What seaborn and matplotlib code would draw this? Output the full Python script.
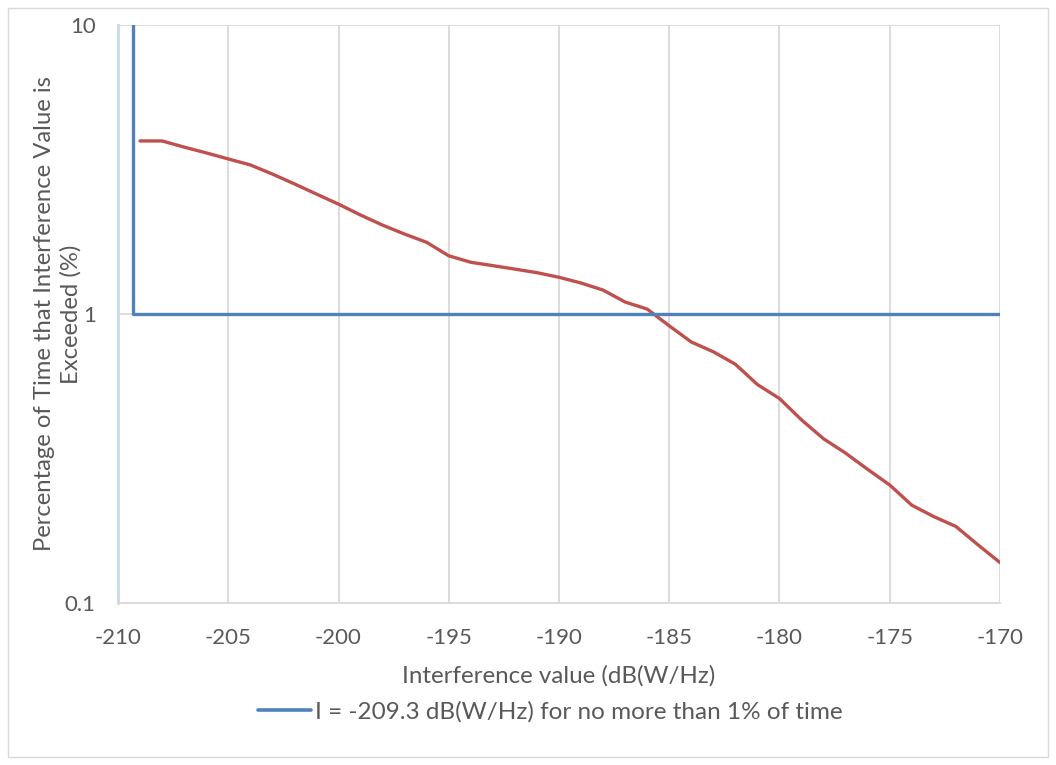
import matplotlib
matplotlib.use("Agg")
import matplotlib.pyplot as plt
import matplotlib.patches as mpatches
import numpy as np
import pandas as pd
import seaborn as sns

# ---- data ----
interference_db = [-209, -208, -207, -206, -205, -204, -203, -202, -201, -200,
                   -199, -198, -197, -196, -195, -194, -193, -192, -191, -190,
                   -189, -188, -187, -186, -185, -184, -183, -182, -181, -180,
                   -179, -178, -177, -176, -175, -174, -173, -172, -171, -170]
pct_exceeded = [3.97, 3.97, 3.78, 3.61, 3.44, 3.28, 3.05, 2.82, 2.60, 2.40,
                2.20, 2.03, 1.89, 1.77, 1.59, 1.51, 1.47, 1.43, 1.39, 1.34,
                1.28, 1.21, 1.10, 1.04, 0.91, 0.80, 0.74, 0.67, 0.57, 0.51,
                0.43, 0.37, 0.33, 0.29, 0.256, 0.218, 0.199, 0.184, 0.159, 0.138]

limit_x = [-209.3, -209.3, -170]
limit_y = [10, 1, 1]
limit_label = "I = -209.3 dB(W/Hz) for no more than 1% of time"

x_ticks = [-210, -205, -200, -195, -190, -185, -180, -175, -170]
y_ticks = [0.1, 1, 10]
y_tick_labels = ["0.1", "1", "10"]

x_title = "Interference value (dB(W/Hz)"
y_title = "Percentage of Time that Interference Value is\nExceeded (%)"

# ---- style ----
sns.set_style("white")
plt.rcParams['font.family'] = ['Lato', 'DejaVu Sans']
text_color = "#595959"
grid_color = "#d9d9d9"
red = "#c0504d"
blue = "#4f81bd"

fig = plt.figure(figsize=(10.56, 7.65), dpi=100)
ax = fig.add_axes([118/1056, 1-603/765, (1000-118)/1056, (603-25)/765])

curve_df = pd.DataFrame({"x": interference_db, "y": pct_exceeded})
limit_df = pd.DataFrame({"x": limit_x, "y": limit_y})

sns.lineplot(data=curve_df, x="x", y="y", ax=ax, color=red, linewidth=2.4,
             sort=False, estimator=None, zorder=3)
sns.lineplot(data=limit_df, x="x", y="y", ax=ax, color=blue, linewidth=2.4,
             sort=False, estimator=None, zorder=4)

ax.set_yscale("log")
ax.set_xlim(-210, -170)
ax.set_ylim(0.1, 10)
ax.set_xticks(x_ticks)
ax.set_xticklabels([str(t) for t in x_ticks])
ax.set_yticks(y_ticks)
ax.set_yticklabels(y_tick_labels)
ax.yaxis.set_minor_locator(matplotlib.ticker.NullLocator())

ax.grid(True, which="major", axis="both", color=grid_color, linewidth=1.3, zorder=0)
ax.set_axisbelow(True)
for s in ["top", "right"]:
    ax.spines[s].set_visible(False)
ax.spines["bottom"].set_color(grid_color)
ax.spines["bottom"].set_linewidth(1.3)
ax.spines["left"].set_color("#c6d9f0")
ax.spines["left"].set_linewidth(2.0)

ax.tick_params(axis="both", length=0, labelsize=16, colors=text_color)
ax.tick_params(axis="x", pad=18)
ax.tick_params(axis="y", pad=16)

ax.set_xlabel(x_title, fontsize=17.4, color=text_color, labelpad=12)
ax.set_ylabel(y_title, fontsize=17.2, color=text_color, va="center", ha="center",
              multialignment="center", linespacing=1.3)
ax.yaxis.set_label_coords(-0.068, 0.5)

handle = plt.Line2D([], [], color=blue, linewidth=2.6)
fig.legend([handle], [limit_label], loc="center", bbox_to_anchor=(550/1056, 1-712/765),
           frameon=False, fontsize=17.5, labelcolor=text_color, handlelength=2.2,
           handletextpad=0.15)

# outer chart border
fig.patches.append(mpatches.Rectangle((8/1056, 8/765), 1040/1056, 749/765,
                                      transform=fig.transFigure, fill=False,
                                      edgecolor=grid_color, linewidth=1.0))

fig.savefig("out.png", dpi=100)
